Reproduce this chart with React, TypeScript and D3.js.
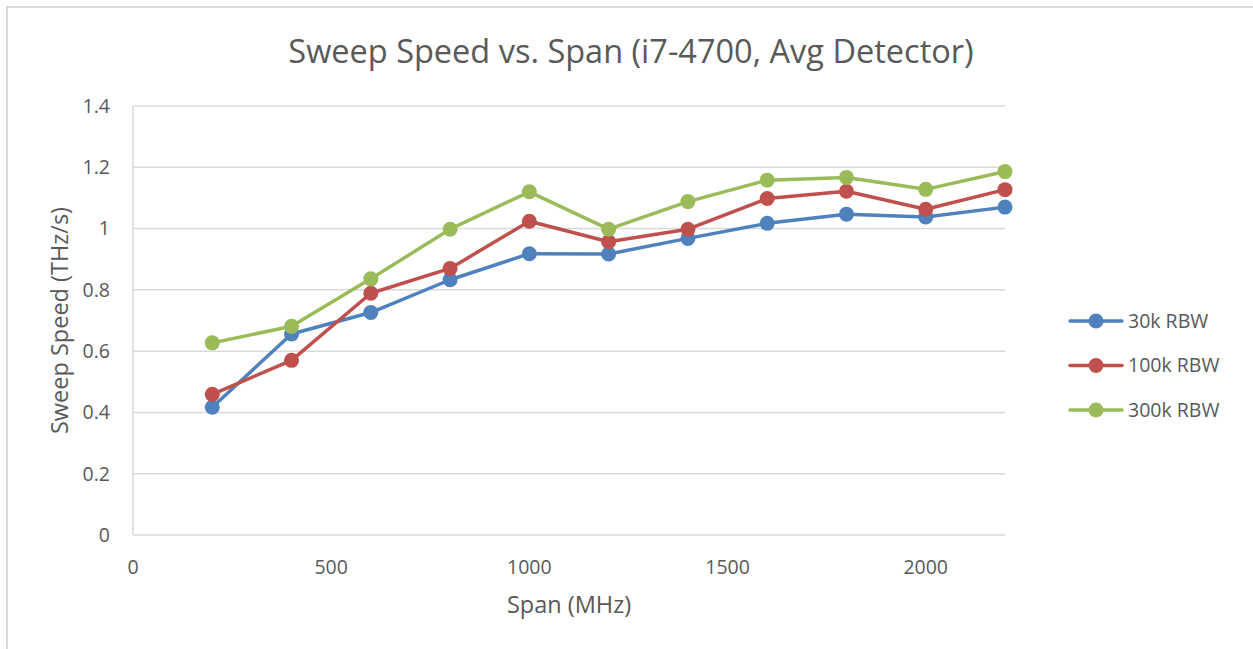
import React, { useEffect, useRef } from 'react';
import * as d3 from 'd3';

const spans = [200, 400, 600, 800, 1000, 1200, 1400, 1600, 1800, 2000, 2200];
const rbw30k = [0.417, 0.656, 0.726, 0.833, 0.918, 0.917, 0.968, 1.017, 1.047, 1.038, 1.07];
const rbw100k = [0.459, 0.57, 0.789, 0.87, 1.024, 0.957, 0.998, 1.098, 1.122, 1.063, 1.127];
const rbw300k = [0.627, 0.681, 0.836, 0.998, 1.12, 0.998, 1.088, 1.158, 1.167, 1.128, 1.186];
const seriesNames = ['30k RBW', '100k RBW', '300k RBW'];
const xTicks = [0, 500, 1000, 1500, 2000];
const yTicks = [0, 0.2, 0.4, 0.6, 0.8, 1, 1.2, 1.4];

const App = () => {
  const svgRef = useRef(null);

  useEffect(() => {
    const width = 1253;
    const height = 649;
    const margin = { top: 106, right: 248, bottom: 114, left: 133 };
    const font = '"Open Sans", sans-serif';
    const textColor = '#595959';
    const colors = ['#4f81bd', '#c0504d', '#9bbb59'];
    const allSeries = [rbw30k, rbw100k, rbw300k];

    const svg = d3.select(svgRef.current);
    svg.selectAll('*').remove();

    svg.append('rect').attr('width', width).attr('height', height).attr('fill', '#fff');

    // outer chart border (only the top and left edges are in frame)
    svg.append('path')
      .attr('d', `M7,${height} V7 H${width}`)
      .attr('fill', 'none')
      .attr('stroke', '#d9d9d9')
      .attr('stroke-width', 2);

    const x = d3.scaleLinear().domain([0, 2200]).range([margin.left, width - margin.right]);
    const y = d3.scaleLinear().domain([0, 1.4]).range([height - margin.bottom, margin.top]);

    // gridlines
    svg.append('g')
      .selectAll('line')
      .data(yTicks.filter((d) => d > 0))
      .enter()
      .append('line')
      .attr('x1', x(0))
      .attr('x2', x(2200))
      .attr('y1', (d) => y(d))
      .attr('y2', (d) => y(d))
      .attr('stroke', '#d9d9d9')
      .attr('stroke-width', 1.5);

    // axis lines
    svg.append('line')
      .attr('x1', x(0)).attr('x2', x(0))
      .attr('y1', y(0)).attr('y2', y(1.4))
      .attr('stroke', '#d9d9d9').attr('stroke-width', 1.5);
    svg.append('line')
      .attr('x1', x(0)).attr('x2', x(2200))
      .attr('y1', y(0)).attr('y2', y(0))
      .attr('stroke', '#d9d9d9').attr('stroke-width', 1.5);

    // tick labels
    svg.append('g')
      .selectAll('text')
      .data(yTicks)
      .enter()
      .append('text')
      .attr('x', x(0) - 23)
      .attr('y', (d) => y(d))
      .attr('dy', '0.35em')
      .attr('text-anchor', 'end')
      .attr('font-family', font)
      .attr('font-size', 19.5)
      .attr('fill', textColor)
      .text((d) => d3.format('~g')(d));

    svg.append('g')
      .selectAll('text')
      .data(xTicks)
      .enter()
      .append('text')
      .attr('x', (d) => x(d))
      .attr('y', y(0) + 32)
      .attr('dy', '0.35em')
      .attr('text-anchor', 'middle')
      .attr('font-family', font)
      .attr('font-size', 19.5)
      .attr('fill', textColor)
      .text((d) => d);

    // titles
    svg.append('text')
      .attr('x', 631)
      .attr('y', 52)
      .attr('dy', '0.35em')
      .attr('text-anchor', 'middle')
      .attr('font-family', font)
      .attr('font-size', 32.5)
      .attr('fill', textColor)
      .text('Sweep Speed vs. Span (i7-4700, Avg Detector)');

    svg.append('text')
      .attr('x', (x(0) + x(2200)) / 2)
      .attr('y', 605)
      .attr('dy', '0.35em')
      .attr('text-anchor', 'middle')
      .attr('font-family', font)
      .attr('font-size', 23.5)
      .attr('fill', textColor)
      .text('Span (MHz)');

    svg.append('text')
      .attr('transform', `translate(60, ${(y(0) + y(1.4)) / 2}) rotate(-90)`)
      .attr('dy', '0.35em')
      .attr('text-anchor', 'middle')
      .attr('font-family', font)
      .attr('font-size', 23.5)
      .attr('fill', textColor)
      .text('Sweep Speed (THz/s)');

    // series lines and markers
    const line = d3.line()
      .x((d, i) => x(spans[i]))
      .y((d) => y(d));

    allSeries.forEach((values, si) => {
      const g = svg.append('g');
      g.append('path')
        .datum(values)
        .attr('d', line)
        .attr('fill', 'none')
        .attr('stroke', colors[si])
        .attr('stroke-width', 3.5)
        .attr('stroke-linejoin', 'round');
      g.selectAll('circle')
        .data(values)
        .enter()
        .append('circle')
        .attr('cx', (d, i) => x(spans[i]))
        .attr('cy', (d) => y(d))
        .attr('r', 7.5)
        .attr('fill', colors[si]);
    });

    // legend
    const legend = svg.append('g').attr('transform', 'translate(1070, 321)');
    seriesNames.forEach((name, i) => {
      const row = legend.append('g').attr('transform', `translate(0, ${i * 44.5})`);
      row.append('line')
        .attr('x1', 0).attr('x2', 52)
        .attr('stroke', colors[i])
        .attr('stroke-width', 3.5)
        .attr('stroke-linecap', 'round');
      row.append('circle').attr('cx', 26).attr('r', 7.5).attr('fill', colors[i]);
      row.append('text')
        .attr('x', 58)
        .attr('dy', '0.35em')
        .attr('font-family', font)
        .attr('font-size', 19.5)
        .attr('fill', textColor)
        .text(name);
    });
  }, []);

  return (
    <div style={{ position: 'fixed', left: 0, top: 0 }}>
      <svg ref={svgRef} width={1253} height={649} style={{ display: 'block' }}></svg>
    </div>
  );
};

export default App;
